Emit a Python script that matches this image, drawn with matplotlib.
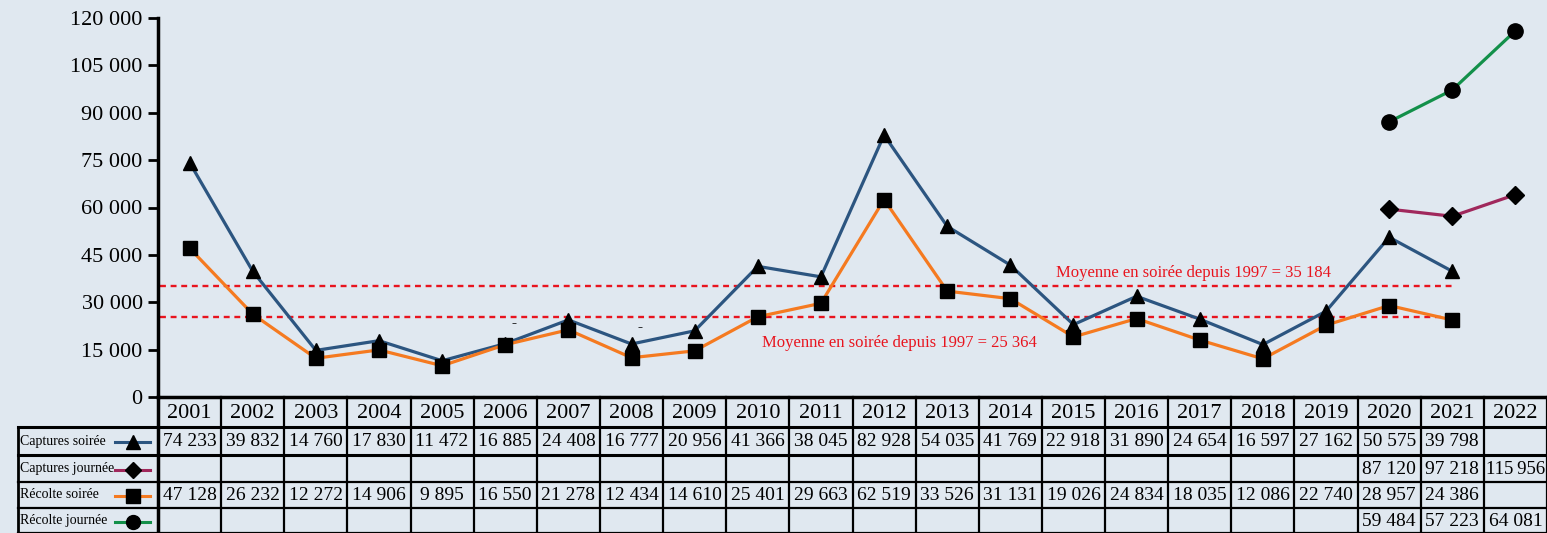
import matplotlib
matplotlib.use('Agg')
import matplotlib.pyplot as plt
from matplotlib.lines import Line2D

plt.rcParams['font.family'] = ['Liberation Serif', 'DejaVu Serif']

years = [2001, 2002, 2003, 2004, 2005, 2006, 2007, 2008, 2009, 2010, 2011,
         2012, 2013, 2014, 2015, 2016, 2017, 2018, 2019, 2020, 2021, 2022]
captures_soiree = [74233, 39832, 14760, 17830, 11472, 16885, 24408, 16777, 20956, 41366, 38045,
                   82928, 54035, 41769, 22918, 31890, 24654, 16597, 27162, 50575, 39798, None]
captures_journee = [None] * 19 + [87120, 97218, 115956]
recolte_soiree = [47128, 26232, 12272, 14906, 9895, 16550, 21278, 12434, 14610, 25401, 29663,
                  62519, 33526, 31131, 19026, 24834, 18035, 12086, 22740, 28957, 24386, None]
recolte_journee = [None] * 19 + [59484, 57223, 64081]
moy_captures = 35184
moy_recolte = 25364
row_labels = ['Captures soirée', 'Captures journée', 'Récolte soirée', 'Récolte journée']

BG = '#e0e8f0'
C_BLUE = '#2c5580'
C_PURPLE = '#a0285c'
C_ORANGE = '#f57a20'
C_GREEN = '#13904a'
C_RED = '#e8141e'

W, H = 1547, 533
fig = plt.figure(figsize=(W / 100, H / 100), dpi=100, facecolor=BG)

# chart area in pixels
x0, x1 = 158, 1547
ytop, ybot = 18, 397
ax = fig.add_axes([x0 / W, (H - ybot) / H, (x1 - x0) / W, (ybot - ytop) / H])
ax.set_facecolor(BG)
n = len(years)
xs = list(range(n))
ax.set_xlim(-0.5, n - 0.5)
ax.set_ylim(0, 120000)


def pts(vals):
    return [x for x, v in zip(xs, vals) if v is not None], [v for v in vals if v is not None]


# note: in the source chart the "journée" series are drawn with swapped styles
ax.plot(*pts(captures_soiree), color=C_BLUE, lw=2.3, marker='^', ms=10, mfc='black', mec='black', zorder=3)
ax.plot(*pts(recolte_soiree), color=C_ORANGE, lw=2.3, marker='s', ms=10, mfc='black', mec='black', zorder=3)
ax.plot(*pts(captures_journee), color=C_GREEN, lw=2.3, marker='o', ms=11, mfc='black', mec='black', zorder=3)
ax.plot(*pts(recolte_journee), color=C_PURPLE, lw=2.3, marker='D', ms=9, mfc='black', mec='black', zorder=3)

# stray empty labels visible in the source chart
for i, dy in [(5, 10), (7, 7)]:
    ax.annotate('-', (xs[i], captures_soiree[i]), xytext=(6, dy), textcoords='offset points',
                ha='center', va='bottom', fontsize=11, fontweight='bold')

ax.hlines([moy_captures, moy_recolte], -0.47, 20.05, colors=C_RED, linestyles=(0, (2.5, 2)), lw=1.7, zorder=2)
ax.text(15.9, moy_captures + 1600, f'Moyenne en soirée depuis 1997 = {moy_captures:,}'.replace(',', ' '),
        color=C_RED, fontsize=12, ha='center', va='bottom')
ax.text(11.25, moy_recolte - 5600, f'Moyenne en soirée depuis 1997 = {moy_recolte:,}'.replace(',', ' '),
        color=C_RED, fontsize=12, ha='center', va='top')

ax.set_yticks(range(0, 120001, 15000))
ax.set_yticklabels([f'{v:,}'.replace(',', ' ') for v in range(0, 120001, 15000)], fontsize=16)
ax.set_xticks([])
ax.tick_params(axis='y', direction='out', length=7, width=2, pad=4)
for s in ['top', 'right']:
    ax.spines[s].set_visible(False)
ax.spines['left'].set_linewidth(2.5)
ax.spines['bottom'].set_linewidth(2.5)

# table drawn in pixel coordinates on an overlay axes
tab = fig.add_axes([0, 0, 1, 1], facecolor='none')
tab.set_xlim(0, W)
tab.set_ylim(H, 0)
tab.axis('off')
colw = (x1 - x0) / n
lab_x = 18
row_edges = [397, 427, 455, 482, 508, 533]
lw = 1.6

# horizontal lines
for k, y in enumerate(row_edges[1:]):
    tab.plot([lab_x, W], [y, y], color='black', lw=2.2 if k < 2 else lw)
# vertical lines
tab.plot([lab_x, lab_x], [row_edges[1], H], color='black', lw=2)
for i in range(n + 1):
    xv = x0 + i * colw
    tab.plot([xv, xv], [row_edges[0], H], color='black', lw=lw if i > 0 else 2.5)

# header years
for i, yr in enumerate(years):
    tab.text(x0 + (i + 0.5) * colw, (row_edges[0] + row_edges[1]) / 2 + 1, str(yr),
             fontsize=16, ha='center', va='center')

series_rows = [captures_soiree, captures_journee, recolte_soiree, recolte_journee]
samples = [(C_BLUE, '^', 10), (C_PURPLE, 'D', 8), (C_ORANGE, 's', 10), (C_GREEN, 'o', 10)]
for r, (lab, vals, (c, m, ms)) in enumerate(zip(row_labels, series_rows, samples)):
    yc = (row_edges[r + 1] + row_edges[r + 2]) / 2
    tab.text(lab_x + 2, yc, lab, fontsize=10, ha='left', va='center')
    tab.add_line(Line2D([115, 150], [yc + 1, yc + 1], color=c, lw=2.2))
    tab.plot([133], [yc + 1], marker=m, ms=ms, color='black')
    for i, v in enumerate(vals):
        if v is None:
            continue
        txt = f'{v:,}'.replace(',', ' ' if v < 100000 else '\u2009')
        tab.text(x0 + (i + 0.5) * colw, yc + 1, txt, fontsize=14 if v < 100000 else 13.5,
                 ha='center', va='center')

fig.savefig('out.png', dpi=100, facecolor=BG)
